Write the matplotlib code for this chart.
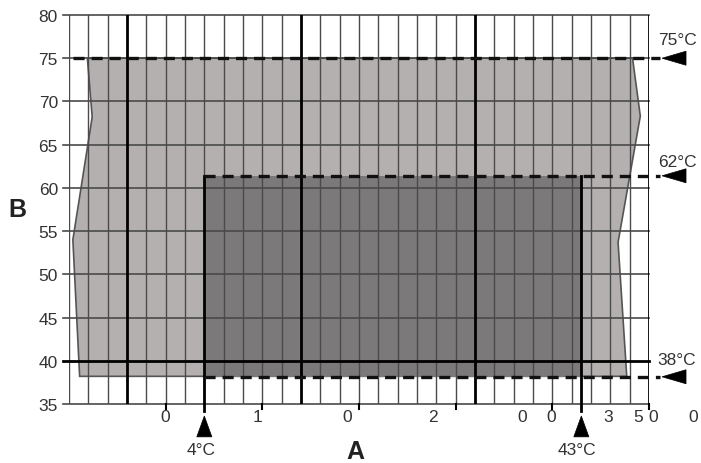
import matplotlib
matplotlib.use("Agg")
import matplotlib.pyplot as plt
from matplotlib.patches import Polygon
import numpy as np

plt.rcParams['font.family'] = ['Liberation Sans', 'DejaVu Sans']
plt.rcParams['lines.scale_dashes'] = False

# axis ranges (temperature A in degC, B in degC)
x_min, x_max = -10, 50
y_min, y_max = 35, 80
y_ticks = [35, 40, 45, 50, 55, 60, 65, 70, 75, 80]
x_major = [0, 10, 20, 30, 40, 50]
x_thick = [-4, 14, 32]

# outer (light) operating envelope
outer_x = [-8.1, -7.6, -9.6, -8.9, 47.7, 46.8, 49.1, 48.3]
outer_y = [75.0, 68.2, 54.0, 38.2, 38.2, 53.7, 68.3, 75.0]

# inner (dark) region
inner_x = [4, 43]
inner_y = [38.15, 61.4]

# limit lines on the right
limit_vals = [75.0, 61.4, 38.15]
limit_start = [-9.6, 4, 4]
limit_text = ["75°C", "62°C", "38°C"]
limit_text_y = [77.2, 63.0, 40.2]

# markers below the axis
bottom_vals = [4, 43]
bottom_text = ["4°C", "43°C"]
bottom_text_x = [3.65, 42.55]

# x tick labels as they appear (broken in the source)
xlab_chars = ["0", "1", "0", "2", "0", "0", "3", "5", "0", "0"]
xlab_pos = [-0.07, 9.45, 18.76, 27.65, 36.86, 39.86, 45.76, 48.86, 50.41, 54.55]

light = "#b4b0b0"
dark = "#7b7979"
grid_c = "#4a4a4a"
text_c = "#333333"

fig = plt.figure(figsize=(7.01, 4.64), dpi=100)
ax = fig.add_axes([69 / 701, 1 - 405 / 464, 580 / 701, 389 / 464])
ax.set_xlim(x_min, x_max)
ax.set_ylim(y_min, y_max)
for s in ax.spines.values():
    s.set_visible(False)

# filled regions
ax.add_patch(Polygon(np.column_stack([outer_x, outer_y]), closed=True,
                     facecolor=light, edgecolor="#555555", lw=1.2, zorder=1))
ax.fill_between(inner_x, inner_y[0], inner_y[1], color=dark, lw=0, zorder=1.5)

# vertical grid
for x in np.arange(x_min, x_max + 1, 2):
    if x in x_thick or x == x_max:
        ax.plot([x, x], [y_min, y_max], color="black", lw=2.0, zorder=3)
    else:
        ax.plot([x, x], [y_min, y_max], color=grid_c, lw=1.0, zorder=2)

# horizontal grid (with small outward ticks)
for y in y_ticks:
    if y == 40:
        ax.plot([x_min - 0.6, x_max], [y, y], color="black", lw=2.0, zorder=3, clip_on=False)
    else:
        ax.plot([x_min - 0.6, x_max], [y, y], color=grid_c, lw=1.2, zorder=2, clip_on=False)

ax.set_yticks(y_ticks)
ax.tick_params(axis="y", length=0, pad=8, labelsize=12.5, labelcolor=text_c)
ax.set_xticks([])

# x ticks below axis
for x in x_major:
    ax.plot([x, x], [y_min, y_min - 0.6], color="black", lw=1.5, zorder=3, clip_on=False)
for ch, xp in zip(xlab_chars, xlab_pos):
    ax.text(xp, 33.5, ch, ha="center", va="center", fontsize=12.5, color=text_c)

# marker lines at 4 and 43
for xv in bottom_vals:
    ax.plot([xv, xv], [y_min - 0.8, inner_y[1]], color="black", lw=2.0, zorder=4, clip_on=False)
    ax.add_patch(Polygon([[xv, 33.61], [xv - 0.78, 31.2], [xv + 0.78, 31.2]], closed=True,
                         facecolor="black", edgecolor="black", lw=0.5, clip_on=False, zorder=5))
for t, xt in zip(bottom_text, bottom_text_x):
    ax.text(xt, 29.7, t, ha="center", va="center", fontsize=12.5, color=text_c)

# dashed limit lines with arrows
for yv, xs, t, ty in zip(limit_vals, limit_start, limit_text, limit_text_y):
    ln, = ax.plot([xs, 51.1], [yv, yv], color="#111111", lw=2.4, zorder=4, clip_on=False)
    ln.set_dashes([8, 5])
    ax.add_patch(Polygon([[51.35, yv], [53.83, yv + 0.81], [53.83, yv - 0.81]], closed=True,
                         facecolor="black", edgecolor="black", lw=0.5, clip_on=False, zorder=5))
    ax.text(52.9, ty, t, ha="center", va="center", fontsize=12.5, color=text_c)

# axis titles
ax.text(19.6, 29.6, "A", ha="center", va="center", fontsize=18, fontweight="bold", color="#222222")
ax.text(-15.3, 57.5, "B", ha="center", va="center", fontsize=18, fontweight="bold", color="#222222")

fig.savefig("out.png", dpi=100)
